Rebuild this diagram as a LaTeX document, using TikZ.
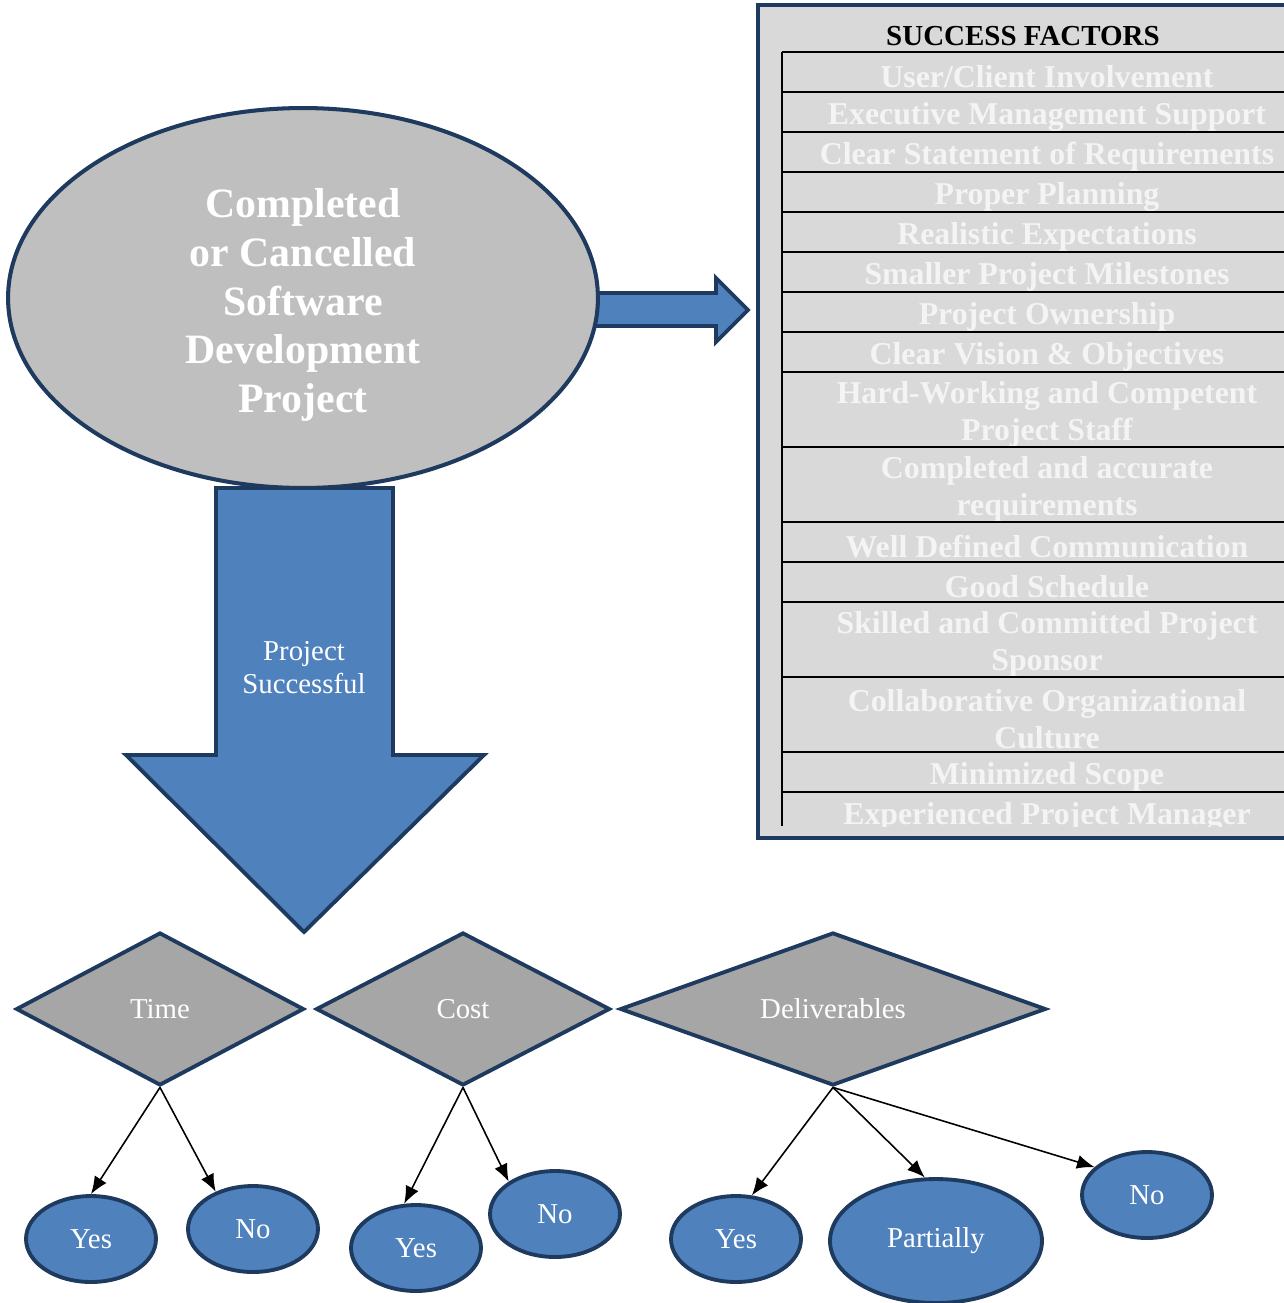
\documentclass[tikz,border=0pt]{standalone}
\usepackage{fontspec}
\setmainfont{Liberation Serif}
\usetikzlibrary{shapes.geometric,arrows.meta}

\definecolor{darknavy}{HTML}{1F3A5F}
\definecolor{boxblue}{HTML}{4F81BD}
\definecolor{ovalgray}{HTML}{BFBFBF}
\definecolor{diamondgray}{HTML}{A6A6A6}
\definecolor{tablegray}{HTML}{D9D9D9}
\definecolor{factorwhite}{HTML}{F4F4F4}

% one row of the success factor table: top, bottom, name, text
\newcommand{\factorrow}[4]{%
	\draw [tableline] (782,#1) -- (1300,#1);
	\node [factortext] (#3) at (1047,{(#1+#2)/2+4.5}) {#4};
}

\begin{document}
\begin{tikzpicture}[x=0.02cm, y=-0.02cm,
	tableline/.style={black, line width=1.1pt},
	factortext/.style={text=factorwhite, align=center, inner sep=0pt,
		font=\fontsize{18.1}{21}\selectfont\bfseries},
	bigoval/.style={ellipse, draw=darknavy, line width=2.3pt, fill=ovalgray,
		minimum width=11.8cm, minimum height=7.6cm, inner sep=0pt},
	ovaltext/.style={align=center, inner sep=0pt, text=white,
		font=\fontsize{23.8}{27.8}\selectfont\bfseries},
	decision/.style={diamond, draw=darknavy, line width=2.2pt, fill=diamondgray,
		minimum height=3.06cm, inner sep=0pt, aspect=2.8, text=white,
		font=\fontsize{16.4}{18.7}\selectfont},
	answer/.style={ellipse, draw=darknavy, line width=2.2pt, fill=boxblue,
		minimum width=2.6cm, minimum height=1.72cm, inner sep=0pt, text=white,
		font=\fontsize{16.4}{18.7}\selectfont},
	flow/.style={-{Latex[length=10pt,width=8pt]}, line width=0.9pt, black}]

	\useasboundingbox (0,0) rectangle (1284,1303);

	% success factors table
	\draw [fill=tablegray, draw=darknavy, line width=2.5pt] (758,5) rectangle (1300,838);
	\node [font=\fontsize{16.5}{19}\selectfont\bfseries, text=black, inner sep=0pt] (factors) at (1023,36) {SUCCESS FACTORS};

	\factorrow{52}{92}{f1}{User/Client Involvement}
	\factorrow{92}{132}{f2}{Executive Management Support}
	\factorrow{132}{172}{f3}{Clear Statement of Requirements}
	\factorrow{172}{212}{f4}{Proper Planning}
	\factorrow{212}{252}{f5}{Realistic Expectations}
	\factorrow{252}{292}{f6}{Smaller Project Milestones}
	\factorrow{292}{332}{f7}{Project Ownership}
	\factorrow{332}{372}{f8}{Clear Vision \& Objectives}
	\factorrow{372}{447}{f9}{Hard-Working and Competent\\Project Staff}
	\factorrow{447}{522}{f10}{Completed and accurate\\requirements}
	\factorrow{522}{562}{f11}{Well Defined Communication}
	\factorrow{562}{602}{f12}{Good Schedule}
	\factorrow{602}{677}{f13}{Skilled and Committed Project\\Sponsor}
	\factorrow{677}{752}{f14}{Collaborative Organizational\\Culture}
	\factorrow{752}{792}{f15}{Minimized Scope}
	\factorrow{792}{832}{f16}{Experienced Project Manager}
	\draw [tableline] (782,52) -- (782,826);
	\draw [fill=tablegray, draw=none] (760,827) rectangle (1300,836);

	% arrow to the table
	\draw [fill=boxblue, draw=darknavy, line width=2.2pt]
		(590,293) -- (716,293) -- (716,278) -- (748,310) -- (716,342) -- (716,326) -- (590,326) -- cycle;

	\node [bigoval] (proj) at (303,298) {};
	\node [ovaltext] (projtext) at (303,305) {Completed\\or Cancelled\\Software\\Development\\Project};

	% arrow down
	\draw [fill=boxblue, draw=darknavy, line width=2.2pt]
		(216,488) -- (393,488) -- (393,755) -- (484,755) -- (304,932) -- (126,755) -- (216,755) -- cycle;
	\node [text=white, align=center, inner sep=0pt, font=\fontsize{16.4}{18.7}\selectfont] (success) at (304,668) {Project\\Successful};

	% decisions
	\node [decision, minimum width=5.76cm] (time) at (160,1009) {Time};
	\node [decision, minimum width=5.88cm] (cost) at (463,1009) {Cost};
	\node [decision, minimum width=8.52cm] (deliv) at (833,1009) {Deliverables};

	\node [answer] (tyes) at (91,1239) {Yes};
	\node [answer] (tno) at (253,1229) {No};
	\node [answer] (cyes) at (416,1248) {Yes};
	\node [answer] (cno) at (555,1214) {No};
	\node [answer] (dyes) at (736,1239) {Yes};
	\node [answer, minimum width=4.24cm, minimum height=2.48cm] (dpart) at (936,1241) {Partially};
	\node [answer] (dno) at (1147,1195) {No};

	\draw [flow] (time.south) -- (tyes.north);
	\draw [flow] (time.south) -- (tno.135);
	\draw [flow] (cost.south) -- (cyes.105);
	\draw [flow] (cost.south) -- (cno.145);
	\draw [flow] (deliv.south) -- (dyes.70);
	\draw [flow] (deliv.south) -- (dpart.100);
	\draw [flow] (deliv.south) -- (dno.152);

\end{tikzpicture}
\end{document}
